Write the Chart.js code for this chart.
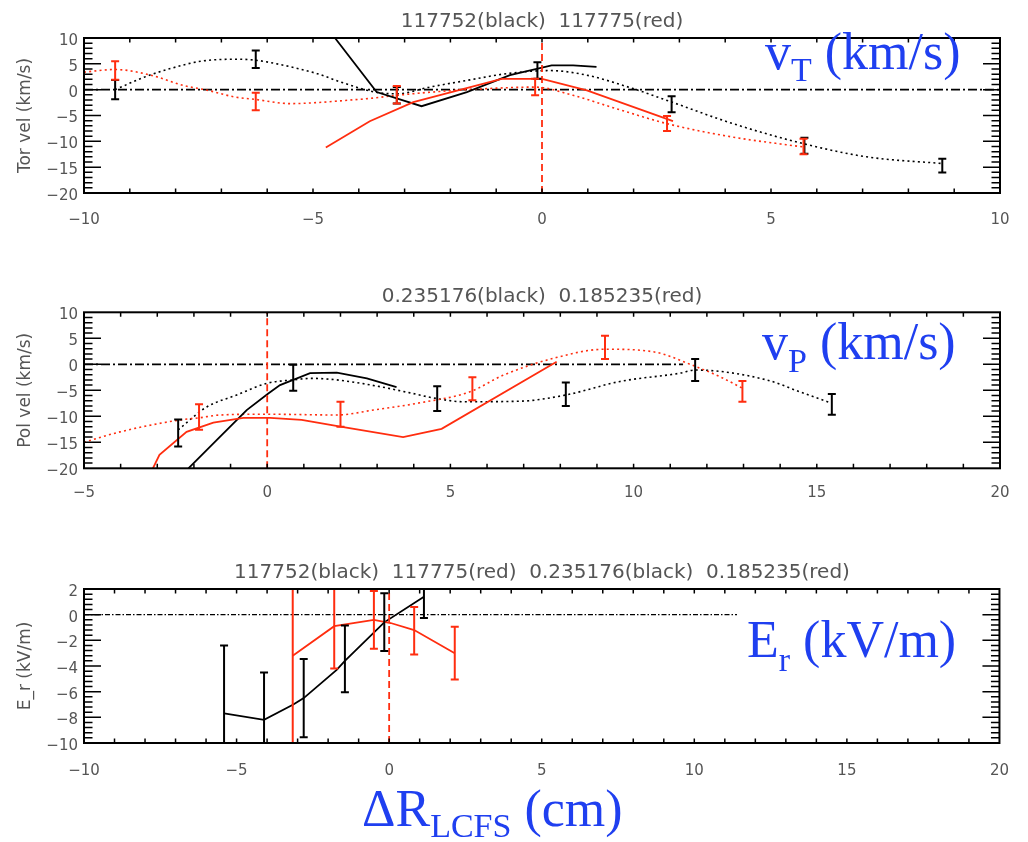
<!DOCTYPE html>
<html><head><meta charset="utf-8">
<script src="https://cdn.jsdelivr.net/npm/chart.js@4.4.1/dist/chart.umd.min.js"></script>
<style>
html,body{margin:0;padding:0;background:#fff;}
#wrap{position:relative;width:1028px;height:842px;overflow:hidden;background:#fff;}
canvas{position:absolute;left:0;}
.ttl{position:absolute;left:84px;width:916px;text-align:center;font-family:"DejaVu Sans";font-size:20px;line-height:20px;color:#555;white-space:pre;}
.big{position:absolute;font-family:"Liberation Serif";color:#1f3ff0;font-size:52px;line-height:52px;white-space:pre;}
.big .s{position:relative;font-size:34px;}
</style></head><body>
<div id="wrap">
<canvas id="c1" width="1028" height="250" style="top:0px"></canvas>
<canvas id="c2" width="1028" height="275" style="top:250px"></canvas>
<canvas id="c3" width="1028" height="317" style="top:525px"></canvas>
<div class="ttl" id="t1" style="top:10px"></div>
<div class="ttl" id="t2" style="top:285px"></div>
<div class="ttl" id="t3" style="top:561px"></div>
<div class="big" style="left:765px;top:26px">v<span class="s" style="top:12px">T</span> (km/s)</div>
<div class="big" style="left:762px;top:316px">v<span class="s" style="top:13px">P</span> (km/s)</div>
<div class="big" style="left:747px;top:614px">E<span class="s" style="top:14px">r</span> (kV/m)</div>
<div class="big" style="left:362px;top:783px">ΔR<span class="s" style="top:11px">LCFS</span> (cm)</div>
</div>
<script>
// ---------- Panel 1: toroidal velocity ----------
const p1Title = '117752(black)  117775(red)';
const p1YTitle = 'Tor vel (km/s)';
const p1XTicks = [-10, -5, 0, 5, 10];
const p1YTicks = [-20, -15, -10, -5, 0, 5, 10];
const p1BlackErrX = [-9.32, -6.25, -3.17, -0.10, 2.83, 5.73, 8.74];
const p1BlackErrY = [0, 5.9, -1.1, 3.7, -2.8, -10.85, -14.7];
const p1BlackErrE = [1.85, 1.7, 1.6, 1.6, 1.55, 1.55, 1.35];
const p1RedErrX = [-9.32, -6.25, -3.17, -0.15, 2.73, 5.71];
const p1RedErrY = [3.7, -2.3, -1.0, 0.5, -6.55, -11.0];
const p1RedErrE = [1.8, 1.7, 1.7, 1.6, 1.45, 1.5];
const p1BlackDotX = [-9.32, -8.69, -8.11, -7.45, -6.65, -6.25, -5.63, -4.91, -4.4, -3.65, -3.17, -2.45, -1.57, -0.77, 0.17, 0.98, 1.99, 2.83, 4.18, 5.73, 7.09, 8.74];
const p1BlackDotY = [0, 2.4, 4.1, 5.5, 5.9, 5.7, 4.7, 3.1, 1.5, -0.46, -0.8, 0.5, 1.9, 3.1, 3.7, 2.8, 0.2, -2.4, -6.6, -10.5, -13.0, -14.3];
const p1RedDotX = [-10, -9.32, -8.54, -7.82, -7.31, -6.72, -6.25, -5.49, -4.91, -4.32, -3.76, -3.17, -2.45, -1.21, -0.15, 0.68, 1.63, 2.74, 4.18, 5.71];
const p1RedDotY = [3.4, 3.9, 2.8, 0.8, -0.1, -1.4, -1.9, -2.7, -2.5, -2.1, -1.7, -1.1, -0.5, 0.2, 0.5, -1.1, -3.7, -6.6, -9.2, -11.1];
const p1BlackLineX = [-4.52, -3.61, -2.63, -1.64, -0.70, 0.21, 0.68, 1.19];
const p1BlackLineY = [10, -0.46, -3.2, -0.46, 2.8, 4.7, 4.7, 4.4];
const p1RedLineX = [-4.72, -3.76, -2.81, -0.88, 0.0, 0.98, 2.86];
const p1RedLineY = [-11.2, -6.1, -2.4, 2.1, 2.1, -0.14, -6.1];
const p1ZeroX = [-10, 10];

// ---------- Panel 2: poloidal velocity ----------
const p2Title = '0.235176(black)  0.185235(red)';
const p2YTitle = 'Pol vel (km/s)';
const p2XTicks = [-5, 0, 5, 10, 15, 20];
const p2YTicks = [-20, -15, -10, -5, 0, 5, 10];
const p2BlackErrX = [-2.43, 0.71, 4.64, 8.15, 11.68, 15.41];
const p2BlackErrY = [-13.2, -2.6, -6.6, -5.75, -1.1, -7.7];
const p2BlackErrE = [2.6, 2.5, 2.4, 2.25, 2.1, 2.0];
const p2RedErrX = [-1.86, 2.0, 5.6, 9.22, 12.97];
const p2RedErrY = [-10.15, -9.6, -4.7, 3.25, -5.2];
const p2RedErrE = [2.45, 2.4, 2.2, 2.25, 2.0];
const p2BlackDotX = [-2.43, -1.65, -0.83, -0.01, 0.71, 1.21, 1.90, 3.08, 3.90, 4.64, 5.35, 6.9, 8.15, 9.63, 11.27, 11.68, 13.63, 14.54, 15.41];
const p2BlackDotY = [-12.6, -8.2, -5.9, -3.65, -3.0, -2.7, -3.0, -4.3, -5.5, -6.6, -7.2, -7.1, -5.9, -3.3, -1.7, -1.1, -3.0, -5.3, -7.5];
const p2RedDotX = [-5, -4.02, -2.38, -1.86, -1.29, 0, 1.9, 2.9, 4.17, 5.53, 6.44, 7.81, 9.22, 10.54, 11.72, 12.36, 12.97];
const p2RedDotY = [-15, -13.0, -10.7, -10.3, -9.75, -9.6, -9.75, -8.8, -7.4, -5.3, -2.1, 1.15, 2.9, 2.4, -0.5, -2.4, -4.6];
const p2BlackLineX = [-2.15, -1.38, -0.56, 0.03, 0.35, 0.71, 1.17, 1.90, 2.72, 3.53];
const p2BlackLineY = [-20, -14.6, -8.8, -5.6, -4.0, -3.0, -1.7, -1.6, -2.7, -4.4];
const p2RedLineX = [-3.12, -2.94, -2.2, -1.47, -0.65, 0.08, 0.94, 2.0, 3.71, 4.76, 7.9];
const p2RedLineY = [-20, -17.4, -13.0, -11.2, -10.3, -10.3, -10.7, -12.0, -14.0, -12.4, 0.5];
const p2ZeroX = [-5, 11.35];

// ---------- Panel 3: radial electric field ----------
const p3Title = '117752(black)  117775(red)  0.235176(black)  0.185235(red)';
const p3YTitle = 'E_r (kV/m)';
const p3XTicks = [-10, -5, 0, 5, 10, 15, 20];
const p3YTicks = [-10, -8, -6, -4, -2, 0, 2];
const p3BlackErrX = [-5.41, -4.1, -2.8, -1.45, -0.16, 1.14];
const p3BlackErrY = [-7.7, -8.2, -6.5, -3.45, -0.58, 1.4];
const p3BlackErrE = [5.3, 3.7, 3.05, 2.6, 2.25, 1.65];
const p3RedErrX = [-3.16, -1.8, -0.5, 0.82, 2.15];
const p3RedErrY = [-3.2, -0.9, -0.4, -1.25, -3.0];
const p3RedErrE = [8, 3.3, 2.25, 1.85, 2.05];
const p3BlackLineX = [-5.41, -4.1, -3.14, -2.8, -1.72, -1.45, -0.16, 1.14];
const p3BlackLineY = [-7.7, -8.2, -7.0, -6.5, -4.3, -3.6, -0.6, 1.4];
const p3RedLineX = [-3.16, -1.8, -0.5, 0.05, 0.82, 2.15];
const p3RedLineY = [-3.2, -0.9, -0.4, -0.65, -1.2, -3.0];
const p3ZeroX = [-10, 11.4];

const lcfsX = 0;

// ---------- styles ----------
const RED = '#ff2d0f';
const BLACK = '#000000';
const TXT = '#555555';

document.getElementById('t1').textContent = p1Title;
document.getElementById('t2').textContent = p2Title;
document.getElementById('t3').textContent = p3Title;

const pts = (xs, ys) => xs.map((x, i) => ({x: x, y: ys[i]}));
const fmt = v => String(v).replace('-', '\u2212');

const errorBars = {
  id: 'errorBars',
  afterDatasetsDraw(chart, args, opts) {
    const {ctx, chartArea: a, scales: {x, y}} = chart;
    ctx.save();
    ctx.beginPath();
    ctx.rect(a.left, a.top, a.width, a.height);
    ctx.clip();
    ctx.lineWidth = 2;
    ctx.lineCap = 'butt';
    for (const s of opts.sets || []) {
      ctx.strokeStyle = s.color;
      ctx.beginPath();
      s.x.forEach((xv, i) => {
        const px = x.getPixelForValue(xv);
        const y1 = y.getPixelForValue(s.y[i] + s.e[i]);
        const y0 = y.getPixelForValue(s.y[i] - s.e[i]);
        ctx.moveTo(px, y0); ctx.lineTo(px, y1);
        ctx.moveTo(px - 4, y0); ctx.lineTo(px + 4, y0);
        ctx.moveTo(px - 4, y1); ctx.lineTo(px + 4, y1);
      });
      ctx.stroke();
    }
    ctx.restore();
  }
};

const idlFrame = {
  id: 'idlFrame',
  afterDraw(chart, args, opts) {
    const {ctx, chartArea: a, scales: {x, y}} = chart;
    ctx.save();
    ctx.strokeStyle = '#000';
    ctx.lineWidth = 1.5;
    ctx.beginPath();
    const nx = Math.round((x.max - x.min) / opts.xMinor);
    for (let n = 1; n < nx; n++) {
      const px = x.getPixelForValue(x.min + n * opts.xMinor);
      ctx.moveTo(px, a.bottom); ctx.lineTo(px, a.bottom - 4.5);
      ctx.moveTo(px, a.top); ctx.lineTo(px, a.top + 4.5);
    }
    const ny = Math.round((y.max - y.min) / opts.yMinor);
    for (let n = 1; n < ny; n++) {
      const v = y.min + n * opts.yMinor;
      const r = v / opts.yMajor;
      const major = Math.abs(r - Math.round(r)) < 1e-6;
      const len = major ? 17 : 8.5;
      const py = y.getPixelForValue(v);
      ctx.moveTo(a.left, py); ctx.lineTo(a.left + len, py);
      ctx.moveTo(a.right, py); ctx.lineTo(a.right - len, py);
    }
    ctx.stroke();
    ctx.lineWidth = 2;
    ctx.strokeRect(a.left, a.top, a.width, a.height);
    ctx.restore();
  }
};

function makePanel(id, cfg) {
  const canvas = document.getElementById(id);
  const H = canvas.height;
  const datasets = cfg.datasets.map((d, i) => Object.assign({
    type: 'line', pointRadius: 0, fill: false, borderWidth: 1.8, tension: 0, order: -i
  }, d));
  return new Chart(canvas, {
    type: 'line',
    data: {datasets: datasets},
    plugins: [errorBars, idlFrame],
    options: {
      responsive: false, animation: false, devicePixelRatio: 1,
      layout: {padding: {top: cfg.top, right: 28, bottom: 0, left: 0}},
      plugins: {
        legend: {display: false}, tooltip: {enabled: false},
        errorBars: {sets: cfg.errSets},
        idlFrame: {xMinor: cfg.xMinor, yMinor: cfg.yMinor, yMajor: cfg.yMajor}
      },
      scales: {
        x: {
          type: 'linear', min: cfg.xMin, max: cfg.xMax,
          afterBuildTicks: s => { s.ticks = cfg.xTicks.map(v => ({value: v})); },
          afterFit: s => { s.height = H - cfg.bottom; },
          grid: {display: false, drawTicks: false}, border: {display: false},
          ticks: {autoSkip: false, maxRotation: 0, padding: cfg.xPad, color: TXT,
                  font: {family: 'DejaVu Sans', size: 15}, callback: fmt}
        },
        y: {
          type: 'linear', min: cfg.yMin, max: cfg.yMax,
          afterBuildTicks: s => { s.ticks = cfg.yTicks.map(v => ({value: v})); },
          afterFit: s => { s.width = 84; },
          grid: {display: false, drawTicks: false}, border: {display: false},
          ticks: {autoSkip: false, padding: 6, labelOffset: 3, color: TXT,
                  font: {family: 'DejaVu Sans', size: 15}, callback: fmt},
          title: {display: true, text: cfg.yTitle, color: TXT, padding: {top: 15, bottom: 0},
                  font: {family: 'DejaVu Sans', size: 17}}
        }
      }
    }
  });
}

const dotted = (xs, ys, c) => ({data: pts(xs, ys), borderColor: c, borderWidth: 1.6, borderDash: [2, 3.2], cubicInterpolationMode: 'monotone'});
const solid = (xs, ys, c) => ({data: pts(xs, ys), borderColor: c, borderWidth: 1.8});
const zero = (xs, dash, w) => ({data: xs.map(x => ({x: x, y: 0})), borderColor: BLACK, borderWidth: w, borderDash: dash});
const lcfs = (y0, y1) => ({data: [{x: lcfsX, y: y0}, {x: lcfsX, y: y1}], borderColor: RED, borderWidth: 1.8, borderDash: [7, 4]});

// panel 1 : page y 38 .. 193
makePanel('c1', {
  top: 38, bottom: 193, xMin: -10, xMax: 10, yMin: -20, yMax: 10,
  xTicks: p1XTicks, yTicks: p1YTicks, xMinor: 1, yMinor: 1, yMajor: 5, xPad: 18, yTitle: p1YTitle,
  datasets: [
    zero(p1ZeroX, [9, 3, 2, 3], 1.8),
    dotted(p1BlackDotX, p1BlackDotY, BLACK),
    dotted(p1RedDotX, p1RedDotY, RED),
    solid(p1BlackLineX, p1BlackLineY, BLACK),
    solid(p1RedLineX, p1RedLineY, RED),
    lcfs(-20, 10)
  ],
  errSets: [
    {x: p1BlackErrX, y: p1BlackErrY, e: p1BlackErrE, color: BLACK},
    {x: p1RedErrX, y: p1RedErrY, e: p1RedErrE, color: RED}
  ]
});

// panel 2 : page y 312.3 .. 468.3  (canvas top 250)
makePanel('c2', {
  top: 62.3, bottom: 218.3, xMin: -5, xMax: 20, yMin: -20, yMax: 10,
  xTicks: p2XTicks, yTicks: p2YTicks, xMinor: 1, yMinor: 1, yMajor: 5, xPad: 16, yTitle: p2YTitle,
  datasets: [
    zero(p2ZeroX, [9, 3, 2, 3], 1.8),
    dotted(p2BlackDotX, p2BlackDotY, BLACK),
    dotted(p2RedDotX, p2RedDotY, RED),
    solid(p2BlackLineX, p2BlackLineY, BLACK),
    solid(p2RedLineX, p2RedLineY, RED),
    lcfs(-20, 10)
  ],
  errSets: [
    {x: p2BlackErrX, y: p2BlackErrY, e: p2BlackErrE, color: BLACK},
    {x: p2RedErrX, y: p2RedErrY, e: p2RedErrE, color: RED}
  ]
});

// panel 3 : page y 589 .. 743 (canvas top 525)
makePanel('c3', {
  top: 64, bottom: 218, xMin: -10, xMax: 20, yMin: -10, yMax: 2,
  xTicks: p3XTicks, yTicks: p3YTicks, xMinor: 1, yMinor: 0.4, yMajor: 2, xPad: 19, yTitle: p3YTitle,
  datasets: [
    zero(p3ZeroX, [5, 2, 1.5, 2], 1.2),
    solid(p3BlackLineX, p3BlackLineY, BLACK),
    solid(p3RedLineX, p3RedLineY, RED),
    lcfs(-10, 2)
  ],
  errSets: [
    {x: p3BlackErrX, y: p3BlackErrY, e: p3BlackErrE, color: BLACK},
    {x: p3RedErrX, y: p3RedErrY, e: p3RedErrE, color: RED}
  ]
});
</script>
</body></html>
